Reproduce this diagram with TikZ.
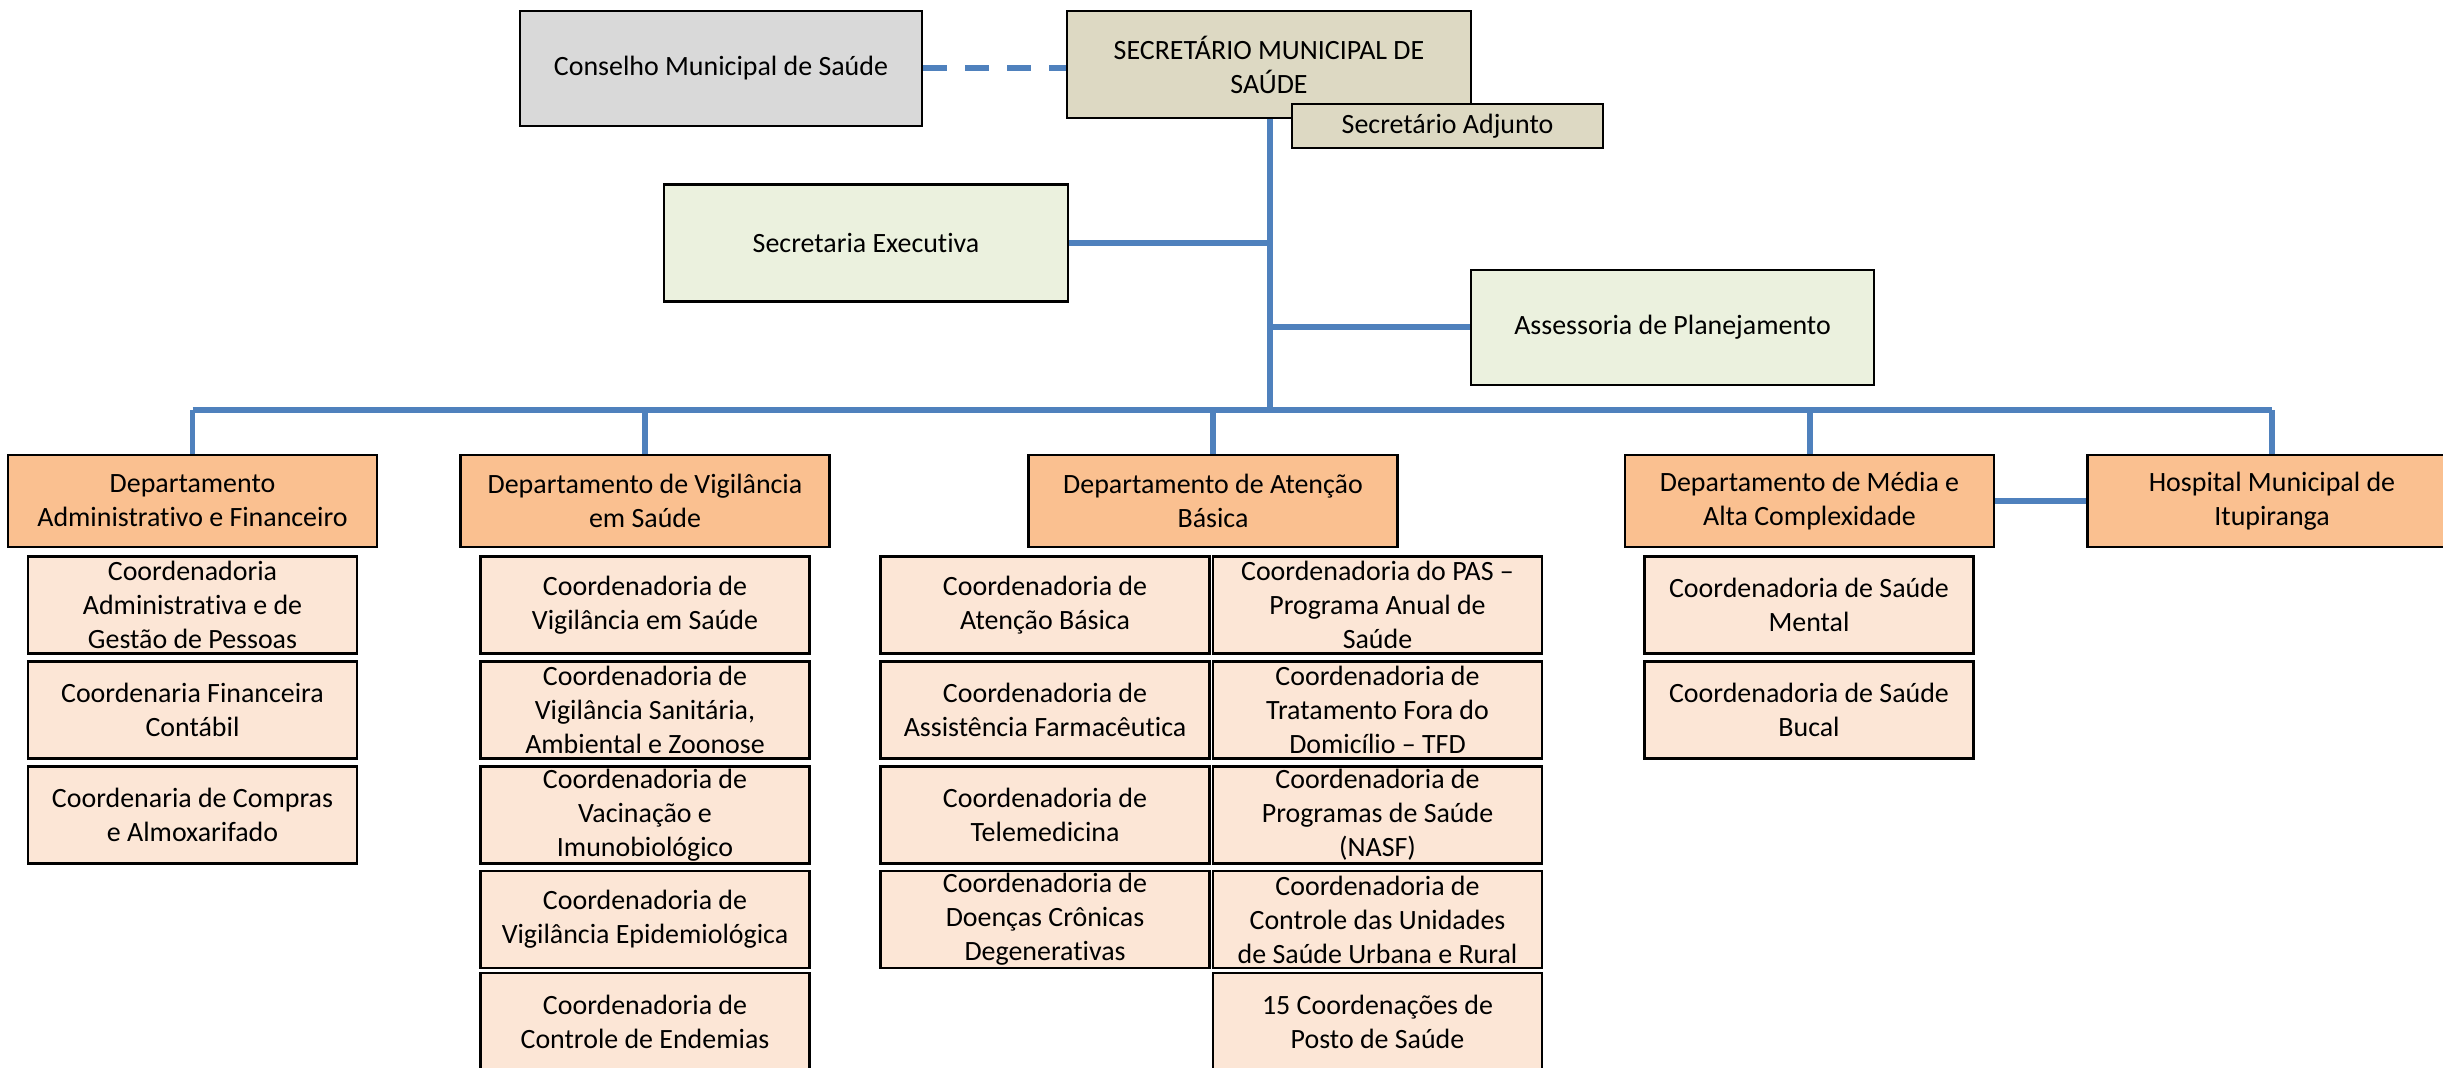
\documentclass[tikz,border=0pt]{standalone}
\usepackage{fontspec}
\setmainfont[Ligatures={NoCommon}]{Carlito}
\usepackage{xcolor}
\usepackage{tikz}

\definecolor{lineblue}{HTML}{4F81BD}
\definecolor{boxgray}{HTML}{D9D9D9}
\definecolor{boxtan}{HTML}{DDD9C3}
\definecolor{boxolive}{HTML}{EBF1DE}
\definecolor{boxorange}{HTML}{FAC090}
\definecolor{boxpeach}{HTML}{FCE6D6}

\begin{document}
\begin{tikzpicture}[x=0.01cm,y=-0.01cm]
\tikzstyle{every node}+=[inner sep=0pt, align=center, font=\fontsize{7.94pt}{9.67pt}\selectfont]
\tikzstyle{orgbox}=[draw=black, line width=0.7pt, rectangle]
\tikzstyle{deptbox}=[orgbox, fill=boxorange, minimum width=3.69cm, minimum height=0.92cm]
\tikzstyle{coordbox}=[orgbox, fill=boxpeach, minimum width=3.29cm, minimum height=0.97cm]
\tikzstyle{link}=[draw=lineblue, line width=1.7pt]
\useasboundingbox (0,0) rectangle (2443,1068);
% top of the chart
\node [orgbox, fill=boxgray, minimum width=4.02cm, minimum height=1.15cm] (cons) at (721,68.5) {Conselho Municipal de Saúde};
\node [orgbox, fill=boxtan, minimum width=4.04cm, minimum height=1.07cm] (sec) at (1269,64.5) {SECRETÁRIO MUNICIPAL DE\\SAÚDE};
\node [orgbox, fill=boxtan, minimum width=3.11cm, minimum height=0.44cm] (adj) at (1447.5,126) {Secretário Adjunto};
\node [orgbox, fill=boxolive, minimum width=4.04cm, minimum height=1.17cm] (exec) at (866,243) {Secretaria Executiva};
\node [orgbox, fill=boxolive, minimum width=4.03cm, minimum height=1.15cm] (assess) at (1672.5,327.5) {Assessoria de Planejamento};
\coordinate (bus) at (1270,410);
\draw [link, dash pattern=on 0.24cm off 0.18cm] (cons.east) -- (cons.east -| sec.west);
\draw [link] (sec.south -| bus) -- (bus);
\draw [link] (exec.east) -- (exec.east -| bus);
\draw [link] (assess.west) -- (assess.west -| bus);
% departments
\node [deptbox] (dadm) at (192.5,501) {Departamento\\Administrativo e Financeiro};
\node [deptbox] (dvig) at (645,501) {Departamento de Vigilância\\em Saúde};
\node [deptbox] (datb) at (1213,501) {Departamento de Atenção\\Básica};
\node [deptbox] (dmac) at (1809.5,501) {Departamento de Média e\\Alta Complexidade};
\node [deptbox] (hosp) at (2272,501) {Hospital Municipal de\\Itupiranga};
\draw [link] (dadm.north |- bus) -- (hosp.north |- bus);
\foreach \d in {dadm,dvig,datb,dmac,hosp}
  \draw [link] (\d.north |- bus) -- (\d.north);
\draw [link] (dmac.east) -- (hosp.west);
% coordenadorias
\node [coordbox] (adm1) at (192.5,605) {Coordenadoria\\Administrativa e de\\Gestão de Pessoas};
\node [coordbox] (adm2) at (192.5,710) {Coordenaria Financeira\\Contábil};
\node [coordbox] (adm3) at (192.5,815) {Coordenaria de Compras\\e Almoxarifado};
\node [coordbox] (vig1) at (645,605) {Coordenadoria de\\Vigilância em Saúde};
\node [coordbox] (vig2) at (645,710) {Coordenadoria de\\Vigilância Sanitária,\\Ambiental e Zoonose};
\node [coordbox] (vig3) at (645,815) {Coordenadoria de\\Vacinação e\\Imunobiológico};
\node [coordbox] (vig4) at (645,919.5) {Coordenadoria de\\Vigilância Epidemiológica};
\node [coordbox] (vig5) at (645,1021.5) {Coordenadoria de\\Controle de Endemias};
\node [coordbox] (atb1) at (1045,605) {Coordenadoria de\\Atenção Básica};
\node [coordbox] (atb2) at (1045,710) {Coordenadoria de\\Assistência Farmacêutica};
\node [coordbox] (atb3) at (1045,815) {Coordenadoria de\\Telemedicina};
\node [coordbox] (atb4) at (1045,919.5) {Coordenadoria de\\Doenças Crônicas\\Degenerativas};
\node [coordbox] (atb5) at (1377.5,605) {Coordenadoria do PAS –\\Programa Anual de\\Saúde};
\node [coordbox] (atb6) at (1377.5,710) {Coordenadoria de\\Tratamento Fora do\\Domicílio – TFD};
\node [coordbox] (atb7) at (1377.5,815) {Coordenadoria de\\Programas de Saúde\\(NASF)};
\node [coordbox] (atb8) at (1377.5,919.5) {Coordenadoria de\\Controle das Unidades\\de Saúde Urbana e Rural};
\node [coordbox] (atb9) at (1377.5,1021.5) {15 Coordenações de\\Posto de Saúde};
\node [coordbox] (mac1) at (1809,605) {Coordenadoria de Saúde\\Mental};
\node [coordbox] (mac2) at (1809,710) {Coordenadoria de Saúde\\Bucal};
\end{tikzpicture}
\end{document}
